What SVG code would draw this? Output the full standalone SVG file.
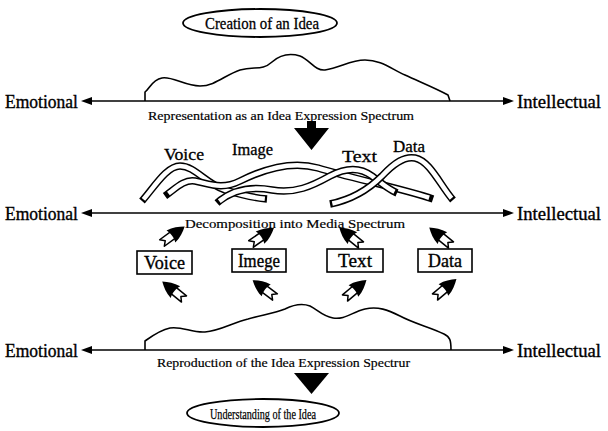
<svg xmlns="http://www.w3.org/2000/svg" width="608" height="431" viewBox="0 0 608 431">
<style>
text{font-family:"Liberation Serif","Times New Roman",serif;fill:#000}
.lbl{font-size:18px;stroke:#000;stroke-width:0.35}
.bx{font-size:19px;stroke:#000;stroke-width:0.35}
.sub{font-size:13.5px;stroke:#000;stroke-width:0.2}
.rib{font-size:16px;stroke:#000;stroke-width:0.3}
.ax{stroke:#000;stroke-width:1.7;fill:none}
.ah{fill:#000}
.curve{fill:none;stroke:#000;stroke-width:1.6;stroke-linejoin:round}
.box{fill:#fff;stroke:#000;stroke-width:1.6}
.ell{fill:#fff;stroke:#000;stroke-width:1.8}
.rb{fill:none;stroke:#000;stroke-width:7.5;stroke-linecap:butt;stroke-linejoin:round}
.rw{fill:none;stroke:#fff;stroke-width:4.5;stroke-linecap:butt;stroke-linejoin:round;stroke-dasharray:0 1.5 97 1.5}
.big{fill:#000}
</style>
<defs>
<g id="fa">
<path d="M0,-4 L15,-4 L15,4 L0,4 L4,0 Z" fill="#fff" stroke="#000" stroke-width="1.5" stroke-linejoin="round"/>
<path d="M11,-7.5 C18,-6.5 23,-3.5 28,0 C23,3.5 18,6.5 11,7.5 C13,3 13,-3 11,-7.5 Z" fill="#000"/>
</g>
</defs>

<g id="creation">
<ellipse class="ell" cx="260" cy="23" rx="77" ry="14"/>
<text x="262" y="29" text-anchor="middle" font-size="17" stroke="#000" stroke-width="0.3" textLength="114" lengthAdjust="spacingAndGlyphs">Creation of an Idea</text>
</g>

<g id="row1">
<text class="lbl" x="5" y="107.5" textLength="73" lengthAdjust="spacingAndGlyphs">Emotional</text>
<text class="lbl" x="517" y="107.5" textLength="84" lengthAdjust="spacingAndGlyphs">Intellectual</text>
<path class="curve" d="M145,101 L145,92 C150,88 152,80 162,78 C172,76 185,86 200,86 C215,86 225,75 240,70 C255,66 262,71 272,62 C280,55 290,53 300,56 C310,60 315,71 325,70 C340,68 350,60 365,60 C380,60 390,68 405,75 C420,82 435,88 448,95 L450,101"/>
<text class="sub" x="148" y="119.5" textLength="266" lengthAdjust="spacingAndGlyphs">Representation as an Idea Expression Spectrum</text>
</g>

<g id="row2">
<text class="lbl" x="5" y="219.5" textLength="73" lengthAdjust="spacingAndGlyphs">Emotional</text>
<text class="lbl" x="517" y="219.5" textLength="84" lengthAdjust="spacingAndGlyphs">Intellectual</text>
<text class="rib" x="164" y="160" textLength="40" lengthAdjust="spacingAndGlyphs">Voice</text>
<text class="rib" x="232" y="155" textLength="41" lengthAdjust="spacingAndGlyphs">Image</text>
<text class="rib" x="342" y="162" textLength="35" lengthAdjust="spacingAndGlyphs">Text</text>
<text class="rib" x="393" y="152" textLength="32" lengthAdjust="spacingAndGlyphs">Data</text>
<g id="ribbons">
<path class="rb" d="M142,201 C155,186 167,166 180,166 C195,166 205,183 225,190 C245,196 255,198 267,199"/>
<path class="rw" pathLength="100" d="M142,201 C155,186 167,166 180,166 C195,166 205,183 225,190 C245,196 255,198 267,199"/>
<path class="rb" d="M165,196 C175,189 184,179 195,181 C210,184 222,190 240,181 C262,170 290,160 318,168 C350,178 400,188 433,199"/>
<path class="rw" pathLength="100" d="M165,196 C175,189 184,179 195,181 C210,184 222,190 240,181 C262,170 290,160 318,168 C350,178 400,188 433,199"/>
<path class="rb" d="M217,203 C232,190 250,186 272,190 C295,194 312,186 330,176 C345,168 360,167 372,176 C382,184 390,190 397,193"/>
<path class="rw" pathLength="100" d="M217,203 C232,190 250,186 272,190 C295,194 312,186 330,176 C345,168 360,167 372,176 C382,184 390,190 397,193"/>
<path class="rb" d="M330,204 C350,200 368,190 382,176 C395,162 405,156 415,158 C430,161 440,185 453,200"/>
<path class="rw" pathLength="100" d="M330,204 C350,200 368,190 382,176 C395,162 405,156 415,158 C430,161 440,185 453,200"/>
</g>
<text class="sub" x="185" y="227.5" textLength="220" lengthAdjust="spacingAndGlyphs">Decomposition into Media Spectrum</text>
</g>

<g id="box-voice">
<rect class="box" x="137" y="251" width="55" height="23"/>
<text class="bx" x="164.5" y="269" text-anchor="middle" textLength="41" lengthAdjust="spacingAndGlyphs">Voice</text>
</g>
<g id="box-imege">
<rect class="box" x="232" y="249" width="54" height="23"/>
<text class="bx" x="259" y="267" text-anchor="middle" textLength="42" lengthAdjust="spacingAndGlyphs">Imege</text>
</g>
<g id="box-text">
<rect class="box" x="327" y="249" width="56" height="23"/>
<text class="bx" x="355" y="267" text-anchor="middle" textLength="34" lengthAdjust="spacingAndGlyphs">Text</text>
</g>
<g id="box-data">
<rect class="box" x="418" y="249" width="54" height="23"/>
<text class="bx" x="445" y="267" text-anchor="middle" textLength="34" lengthAdjust="spacingAndGlyphs">Data</text>
</g>

<g id="row3">
<text class="lbl" x="5" y="356.5" textLength="73" lengthAdjust="spacingAndGlyphs">Emotional</text>
<text class="lbl" x="517" y="356.5" textLength="84" lengthAdjust="spacingAndGlyphs">Intellectual</text>
<path class="curve" d="M145,350 L145,341 C152,336 160,330 170,328 C182,326 192,333 205,332 C220,331 232,323 248,319 C262,315 275,313 285,309 C293,305 302,303 310,306 C318,310 322,316 333,318 C345,320 352,312 365,309 C378,306 388,310 400,316 C415,324 430,327 444,334 C450,337 451,340 451,350"/>
<text class="sub" x="157" y="366.5" textLength="253" lengthAdjust="spacingAndGlyphs">Reproduction of the Idea Expression Spectrur</text>
</g>

<g id="understanding">
<ellipse class="ell" cx="263" cy="413" rx="76" ry="14"/>
<text x="263" y="418.5" text-anchor="middle" font-size="15" stroke="#000" stroke-width="0.25" textLength="106" lengthAdjust="spacingAndGlyphs">Understanding of the Idea</text>
</g>

<g id="connectors">
<line class="ax" x1="88" y1="101" x2="507" y2="101"/>
<path class="ah" d="M81,101 L92,97 L92,105 Z"/>
<path class="ah" d="M514,101 L503,97 L503,105 Z"/>
<line class="ax" x1="88" y1="213" x2="507" y2="213"/>
<path class="ah" d="M81,213 L92,209 L92,217 Z"/>
<path class="ah" d="M514,213 L503,209 L503,217 Z"/>
<line class="ax" x1="88" y1="350" x2="507" y2="350"/>
<path class="ah" d="M81,350 L92,346 L92,354 Z"/>
<path class="ah" d="M514,350 L503,346 L503,354 Z"/>
<path class="big" d="M307,121 L316,121 L316,128 L329,128 L311.5,150 L294,128 L307,128 Z"/>
<path class="big" d="M294,373 L329,373 L311.5,394 Z"/>
<use href="#fa" transform="translate(162,243) rotate(-36)"/>
<use href="#fa" transform="translate(251,244) rotate(-35)"/>
<use href="#fa" transform="translate(361,245) rotate(-141)"/>
<use href="#fa" transform="translate(451,245) rotate(-141)"/>
<use href="#fa" transform="translate(184,299) rotate(-141)"/>
<use href="#fa" transform="translate(275,297) rotate(-143)"/>
<use href="#fa" transform="translate(345,298) rotate(-40)"/>
<use href="#fa" transform="translate(435,297) rotate(-40)"/>
</g>
</svg>
